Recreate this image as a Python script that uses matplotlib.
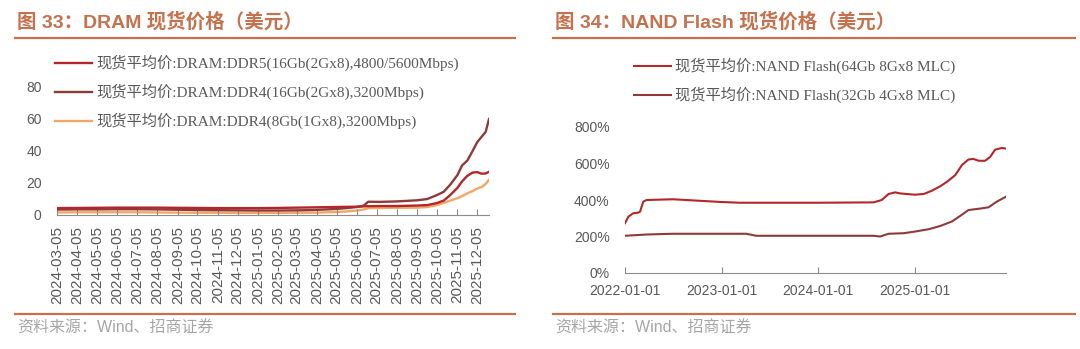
import pandas as pd
import matplotlib
matplotlib.use('Agg')
import matplotlib.pyplot as plt
import matplotlib.dates as mdates
import matplotlib.ticker as ticker
from matplotlib.lines import Line2D

# ── Data ───────────────────────────────────────────────────────────────────────

dram_dates = [
    "2024-03-05", "2024-04-05", "2024-05-05", "2024-06-05", "2024-07-05", "2024-08-05",
    "2024-09-05", "2024-10-05", "2024-11-05", "2024-12-05", "2025-01-05", "2025-02-05",
    "2025-03-05", "2025-04-05", "2025-05-05", "2025-05-20", "2025-06-05", "2025-06-15",
    "2025-06-22", "2025-07-10", "2025-08-05", "2025-09-05", "2025-09-20", "2025-10-05",
    "2025-10-15", "2025-10-25", "2025-11-05", "2025-11-12", "2025-11-20", "2025-11-28",
    "2025-12-05", "2025-12-12", "2025-12-18", "2025-12-23",
]
ddr5_16gb = [
    4.3, 4.4, 4.5, 4.6, 4.6, 4.6, 4.5, 4.4, 4.3, 4.3, 4.3, 4.4,
    4.6, 4.8, 5.0, 5.1, 5.2, 5.4, 5.5, 5.6, 5.6, 5.9, 6.2, 7.5,
    9.0, 12.5, 17.0, 21.0, 24.5, 26.5, 26.8, 25.8, 26.0, 27.0,
]
ddr4_16gb = [
    3.4, 3.5, 3.5, 3.6, 3.6, 3.5, 3.3, 3.1, 3.0, 2.9, 2.8, 2.8,
    2.9, 3.2, 3.8, 4.3, 5.0, 5.8, 8.3, 8.2, 8.5, 9.2, 10.0, 12.5,
    14.5, 19.0, 25.0, 31.0, 34.0, 40.0, 45.5, 49.0, 52.0, 60.0,
]
ddr4_8gb = [
    1.6, 1.7, 1.7, 1.7, 1.7, 1.6, 1.5, 1.4, 1.4, 1.3, 1.3, 1.3,
    1.4, 1.5, 1.9, 2.2, 2.8, 3.4, 4.3, 4.4, 4.5, 4.6, 5.0, 6.2,
    7.5, 9.0, 10.5, 11.8, 13.5, 15.0, 16.5, 17.5, 19.5, 22.0,
]

nand64_dates = [
    "2022-01-01", "2022-01-14", "2022-02-01", "2022-02-20", "2022-02-27", "2022-03-11",
    "2022-03-24", "2022-07-01", "2023-01-01", "2023-03-11", "2024-01-01", "2024-07-29",
    "2024-08-29", "2024-09-24", "2024-10-19", "2024-11-07", "2025-01-01", "2025-02-04",
    "2025-03-07", "2025-04-08", "2025-05-03", "2025-06-03", "2025-06-28", "2025-07-23",
    "2025-08-11", "2025-08-30", "2025-09-24", "2025-10-13", "2025-11-01", "2025-11-26",
    "2025-12-12",
]
nand64 = [
    273, 309, 327, 331, 336, 391, 400, 404, 389, 385, 385, 387,
    400, 433, 442, 436, 429, 433, 451, 476, 500, 536, 591, 622,
    625, 615, 615, 636, 676, 685, 682,
]
nand32_dates = [
    "2022-01-01", "2022-03-24", "2022-07-01", "2023-04-05", "2023-05-12", "2024-01-01",
    "2024-07-29", "2024-08-23", "2024-09-24", "2024-11-20", "2025-01-01", "2025-02-23",
    "2025-04-08", "2025-05-21", "2025-06-22", "2025-07-23", "2025-09-05", "2025-10-07",
    "2025-11-07", "2025-12-12",
]
nand32 = [
    204, 211, 215, 215, 204, 204, 204, 200, 215, 218, 227, 240,
    258, 282, 313, 345, 353, 360, 391, 418,
]

dram_labels = [
    "现货平均价:DRAM:DDR5(16Gb(2Gx8),4800/5600Mbps)",
    "现货平均价:DRAM:DDR4(16Gb(2Gx8),3200Mbps)",
    "现货平均价:DRAM:DDR4(8Gb(1Gx8),3200Mbps)",
]
nand_labels = [
    "现货平均价:NAND Flash(64Gb 8Gx8 MLC)",
    "现货平均价:NAND Flash(32Gb 4Gx8 MLC)",
]

# ── Style ──────────────────────────────────────────────────────────────────────

ACCENT = "#C5714E"
TXT    = "#595959"
SRC    = "#A6A6A6"
AXIS   = "#8C8C8C"
RED    = "#B3262A"
MAROON = "#8E3A3A"
ORANGE = "#F2A766"

LATIN_CJK = ["Liberation Sans", "Noto Sans CJK SC"]
SERIF_CJK = ["Liberation Serif", "Noto Sans CJK SC"]

W, H = 1080, 349
fig = plt.figure(figsize=(W / 100, H / 100), dpi=100)


def fx(px):
    return px / W


def fy(py):
    return 1 - py / H


def frame(x0, x1, title):
    fig.text(fx(x0 + 2), fy(22), title, fontsize=14, fontweight="bold", color=ACCENT,
             family=LATIN_CJK, va="center", ha="left")
    fig.add_artist(Line2D([fx(x0), fx(x1)], [fy(38), fy(38)], color=ACCENT, lw=1.6))
    fig.add_artist(Line2D([fx(x0), fx(x1)], [fy(314), fy(314)], color=ACCENT, lw=1.6))
    fig.text(fx(x0 + 2), fy(328), "资料来源：Wind、招商证券", fontsize=11.5, color=SRC,
             family=LATIN_CJK, va="center", ha="left")


def style_axes(ax, xsize=10, xpad=6):
    for s in ["top", "right", "left"]:
        ax.spines[s].set_visible(False)
    ax.spines["bottom"].set_color(AXIS)
    ax.tick_params(axis="x", direction="in", length=4, color=AXIS, labelcolor=TXT,
                   labelsize=xsize, pad=xpad)
    ax.tick_params(axis="y", length=0, labelcolor=TXT, labelsize=10, pad=11)
    for lab in ax.get_xticklabels() + ax.get_yticklabels():
        lab.set_family("Liberation Sans")


def add_legend(ax, x, y):
    h, l = ax.get_legend_handles_labels()
    fig.legend(h, l, loc="upper left", bbox_to_anchor=(fx(x), fy(y)), frameon=False,
               prop={"family": SERIF_CJK, "size": 11}, labelcolor=TXT, handlelength=2.4,
               handletextpad=0.3, labelspacing=0.82, borderpad=0, borderaxespad=0)


# ── Left: DRAM ─────────────────────────────────────────────────────────────────

frame(15, 515, "图 33：DRAM 现货价格（美元）")

d = pd.to_datetime(dram_dates)
ax1 = fig.add_axes([fx(57), fy(215), fx(489 - 57), (215 - 87) / H])
ax1.plot(d, ddr5_16gb, color=RED, lw=1.7, label=dram_labels[0], zorder=3)
ax1.plot(d, ddr4_16gb, color=MAROON, lw=1.7, label=dram_labels[1], zorder=2)
ax1.plot(d, ddr4_8gb, color=ORANGE, lw=1.7, label=dram_labels[2], zorder=1)
ax1.set_xlim(pd.Timestamp("2024-03-05"), pd.Timestamp("2025-12-23"))
ax1.set_ylim(0, 80)
ax1.set_yticks([0, 20, 40, 60, 80])
ax1.xaxis.set_major_locator(mdates.MonthLocator(bymonthday=5))
ax1.xaxis.set_major_formatter(mdates.DateFormatter("%Y-%m-%d"))
style_axes(ax1, xsize=11, xpad=8)
for lab in ax1.get_xticklabels():
    lab.set_rotation(90)

add_legend(ax1, 55, 55)

# ── Right: NAND Flash ──────────────────────────────────────────────────────────

frame(553, 1075, "图 34：NAND Flash 现货价格（美元）")

ax2 = fig.add_axes([fx(625), fy(273), fx(1006 - 625), (273 - 127) / H])
ax2.plot(pd.to_datetime(nand64_dates), nand64, color=RED, lw=1.5, label=nand_labels[0])
ax2.plot(pd.to_datetime(nand32_dates), nand32, color=MAROON, lw=1.5, label=nand_labels[1])
ax2.set_xlim(pd.Timestamp("2022-01-01"), pd.Timestamp("2025-12-12"))
ax2.set_ylim(0, 800)
ax2.set_yticks([0, 200, 400, 600, 800])
ax2.yaxis.set_major_formatter(ticker.FuncFormatter(lambda v, _: f"{v:.0f}%"))
ax2.xaxis.set_major_locator(mdates.YearLocator())
ax2.xaxis.set_major_formatter(mdates.DateFormatter("%Y-%m-%d"))
style_axes(ax2, xsize=10, xpad=8)

add_legend(ax2, 634, 58)

fig.savefig("out.png", dpi=100)
